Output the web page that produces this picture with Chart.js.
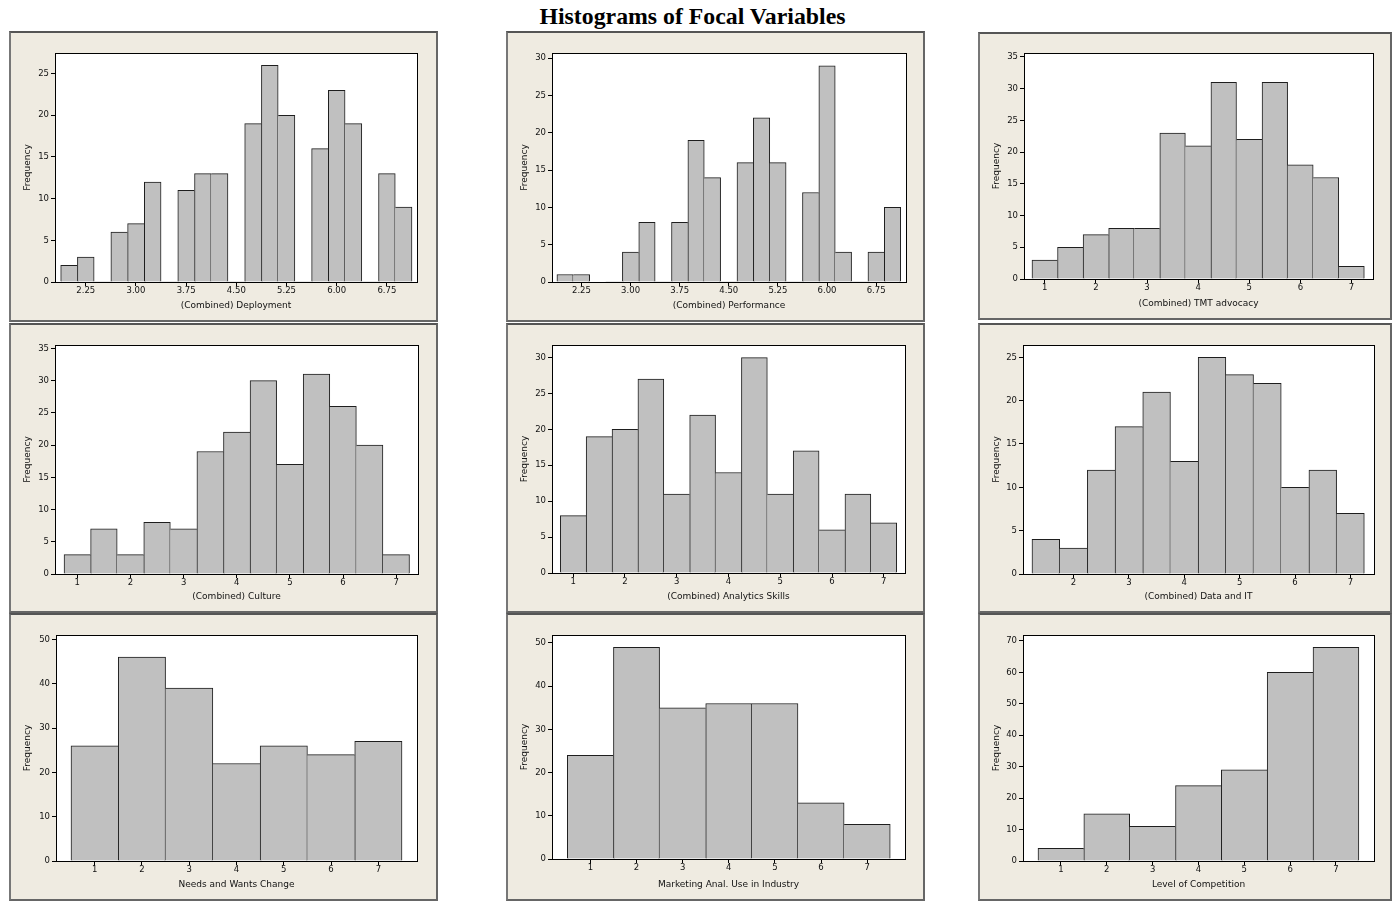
<!DOCTYPE html>
<html>
<head>
<meta charset="utf-8">
<title>Histograms of Focal Variables</title>
<script src="https://cdn.jsdelivr.net/npm/chart.js@4.4.1/dist/chart.umd.min.js"></script>
<style>
  html, body { margin: 0; padding: 0; background: #fff; }
  body { width: 1397px; height: 902px; position: relative; overflow: hidden; }
  h1 {
    position: absolute; left: 0; top: 5px; width: 1385px; margin: 0;
    text-align: center; font: bold 23.8px/23px "Liberation Serif", "Times New Roman", serif; color: #000;
  }
  .panel {
    position: absolute; box-sizing: border-box; background: #efebe1;
    border: 2px solid #666; border-top-color: #555; border-left-color: #777;
  }
  .panel canvas { position: absolute; left: -2px; top: -2px; }
</style>
</head>
<body>
<h1>Histograms of Focal Variables</h1>
<div id="grid"></div>
<script>
// bin midpoints and counts
const quarterBins = [2.00, 2.25, 2.50, 2.75, 3.00, 3.25, 3.50, 3.75, 4.00, 4.25, 4.50, 4.75, 5.00, 5.25, 5.50, 5.75, 6.00, 6.25, 6.50, 6.75, 7.00];
const deploymentFreq = [2, 3, 0, 6, 7, 12, 0, 11, 13, 13, 0, 19, 26, 20, 0, 16, 23, 19, 0, 13, 9];
const performanceFreq = [1, 1, 0, 0, 4, 8, 0, 8, 19, 14, 0, 16, 22, 16, 0, 12, 29, 4, 0, 4, 10];

const halfBins = [1.0, 1.5, 2.0, 2.5, 3.0, 3.5, 4.0, 4.5, 5.0, 5.5, 6.0, 6.5, 7.0];
const tmtFreq = [3, 5, 7, 8, 8, 23, 21, 31, 22, 31, 18, 16, 2];
const cultureFreq = [3, 7, 3, 8, 7, 19, 22, 30, 17, 31, 26, 20, 3];
const analyticsFreq = [8, 19, 20, 27, 11, 22, 14, 30, 11, 17, 6, 11, 7];

const dataItBins = [1.5, 2.0, 2.5, 3.0, 3.5, 4.0, 4.5, 5.0, 5.5, 6.0, 6.5, 7.0];
const dataItFreq = [4, 3, 12, 17, 21, 13, 25, 23, 22, 10, 12, 7];

const likertBins = [1, 2, 3, 4, 5, 6, 7];
const needsFreq = [26, 46, 39, 22, 26, 24, 27];
const marketingFreq = [24, 49, 35, 36, 36, 13, 8];
const competitionFreq = [4, 15, 11, 24, 29, 60, 68];

// tick labels
const quarterTicks = [2.25, 3.00, 3.75, 4.50, 5.25, 6.00, 6.75];
const likertTicks = [1, 2, 3, 4, 5, 6, 7];
const dataItTicks = [2, 3, 4, 5, 6, 7];
const freqTicks25 = [0, 5, 10, 15, 20, 25];
const freqTicks30 = [0, 5, 10, 15, 20, 25, 30];
const freqTicks35 = [0, 5, 10, 15, 20, 25, 30, 35];
const freqTicks50 = [0, 10, 20, 30, 40, 50];
const freqTicks70 = [0, 10, 20, 30, 40, 50, 60, 70];

const panels = [
  { title: '(Combined) Deployment', bins: quarterBins, freq: deploymentFreq, xTicks: quarterTicks, yTicks: freqTicks25, decimals: 2,
    box: [9, 31, 438, 322], plot: [55, 53, 417, 282], xMin: 1.79, xMax: 7.2, yMax: 27.47 },
  { title: '(Combined) Performance', bins: quarterBins, freq: performanceFreq, xTicks: quarterTicks, yTicks: freqTicks30, decimals: 2,
    box: [506, 31, 925, 322], plot: [552, 53, 906, 282], xMin: 1.8, xMax: 7.206, yMax: 30.71 },
  { title: '(Combined) TMT advocacy', bins: halfBins, freq: tmtFreq, xTicks: likertTicks, yTicks: freqTicks35, decimals: 0,
    box: [978, 32, 1392, 320], plot: [1024, 53, 1373, 279], xMin: 0.594, xMax: 7.42, yMax: 35.63 },
  { title: '(Combined) Culture', bins: halfBins, freq: cultureFreq, xTicks: likertTicks, yTicks: freqTicks35, decimals: 0,
    box: [9, 323, 438, 613], plot: [55, 345, 418, 574], xMin: 0.58, xMax: 7.41, yMax: 35.53 },
  { title: '(Combined) Analytics Skills', bins: halfBins, freq: analyticsFreq, xTicks: likertTicks, yTicks: freqTicks30, decimals: 0,
    box: [506, 323, 925, 613], plot: [552, 345, 905, 573], xMin: 0.59, xMax: 7.41, yMax: 31.75 },
  { title: '(Combined) Data and IT', bins: dataItBins, freq: dataItFreq, xTicks: dataItTicks, yTicks: freqTicks25, decimals: 0,
    box: [978, 323, 1392, 613], plot: [1023, 345, 1374, 574], xMin: 1.088, xMax: 7.425, yMax: 26.42 },
  { title: 'Needs and Wants Change', bins: likertBins, freq: needsFreq, xTicks: likertTicks, yTicks: freqTicks50, decimals: 0,
    box: [9, 613, 438, 901], plot: [56, 635, 417, 861], xMin: 0.183, xMax: 7.817, yMax: 51.0 },
  { title: 'Marketing Anal. Use in Industry', bins: likertBins, freq: marketingFreq, xTicks: likertTicks, yTicks: freqTicks50, decimals: 0,
    box: [506, 613, 925, 901], plot: [552, 635, 905, 859], xMin: 0.168, xMax: 7.82, yMax: 51.85 },
  { title: 'Level of Competition', bins: likertBins, freq: competitionFreq, xTicks: likertTicks, yTicks: freqTicks70, decimals: 0,
    box: [978, 613, 1392, 901], plot: [1023, 635, 1374, 861], xMin: 0.173, xMax: 7.83, yMax: 71.9 }
];

Chart.defaults.font.family = "'DejaVu Sans', Verdana, sans-serif";
Chart.defaults.font.size = 8.5;
Chart.defaults.color = '#111';

// white plot area with a black frame, like Minitab
const framePlugin = {
  id: 'frame',
  beforeDraw(chart) {
    const a = chart.chartArea, ctx = chart.ctx;
    ctx.save();
    ctx.fillStyle = '#fff';
    ctx.fillRect(a.left, a.top, a.right - a.left, a.bottom - a.top);
    ctx.restore();
  },
  afterDatasetsDraw(chart) {
    const a = chart.chartArea, ctx = chart.ctx;
    ctx.save();
    ctx.strokeStyle = '#000';
    ctx.lineWidth = 1;
    ctx.strokeRect(a.left + 0.5, a.top + 0.5, a.right - a.left, a.bottom - a.top);
    ctx.restore();
  }
};

// draw each shared bar edge once, on the taller bar
function edgeWidths(ctx) {
  const d = ctx.dataset.data, i = ctx.dataIndex;
  if (i === undefined) return 1;
  const h = d[i].y;
  const prev = i > 0 ? d[i - 1].y : -1;
  const next = i < d.length - 1 ? d[i + 1].y : -1;
  return { top: 1, bottom: 0, left: h > prev ? 1 : 0, right: h >= next ? 1 : 0 };
}

const grid = document.getElementById('grid');

panels.forEach(p => {
  const [bx0, by0, bx1, by1] = p.box;
  const [px0, py0, px1, py1] = p.plot;
  const w = bx1 - bx0, h = by1 - by0;

  const div = document.createElement('div');
  div.className = 'panel';
  div.style.left = bx0 + 'px';
  div.style.top = by0 + 'px';
  div.style.width = w + 'px';
  div.style.height = h + 'px';
  const canvas = document.createElement('canvas');
  canvas.width = w;
  canvas.height = h;
  canvas.style.width = w + 'px';
  canvas.style.height = h + 'px';
  div.appendChild(canvas);
  grid.appendChild(div);

  new Chart(canvas, {
    type: 'bar',
    data: {
      datasets: [{
        data: p.bins.map((b, i) => ({ x: b, y: p.freq[i] })),
        backgroundColor: '#c0c0c0',
        borderColor: '#1e1e1e',
        borderWidth: edgeWidths,
        borderSkipped: false,
        categoryPercentage: 1,
        barPercentage: 1
      }]
    },
    options: {
      responsive: false,
      animation: false,
      events: [],
      layout: {
        padding: { top: py0 - by0, right: bx1 - px1, left: 0, bottom: 0 }
      },
      plugins: {
        legend: { display: false },
        tooltip: { enabled: false }
      },
      scales: {
        x: {
          type: 'linear',
          min: p.xMin,
          max: p.xMax,
          offset: false,
          afterBuildTicks: s => { s.ticks = p.xTicks.map(v => ({ value: v })); },
          afterFit: s => { s.height = by1 - py1; },
          ticks: {
            autoSkip: false,
            maxRotation: 0,
            padding: 0,
            callback: v => v.toFixed(p.decimals)
          },
          grid: { offset: false, drawOnChartArea: false, drawTicks: true, tickLength: 4, color: '#000' },
          border: { display: true, color: '#000', width: 1 },
          title: { display: true, text: p.title, font: { size: 9 }, padding: { top: 0, bottom: 11 } }
        },
        y: {
          type: 'linear',
          min: 0,
          max: p.yMax,
          afterBuildTicks: s => { s.ticks = p.yTicks.map(v => ({ value: v })); },
          afterFit: s => { s.width = px0 - bx0; },
          ticks: { padding: 2 },
          grid: { drawOnChartArea: false, drawTicks: true, tickLength: 4, color: '#000' },
          border: { display: true, color: '#000', width: 1 },
          title: { display: true, text: 'Frequency', font: { size: 9 }, padding: { top: 13.5, bottom: 0 } }
        }
      }
    },
    plugins: [framePlugin]
  });
});
</script>
</body>
</html>
